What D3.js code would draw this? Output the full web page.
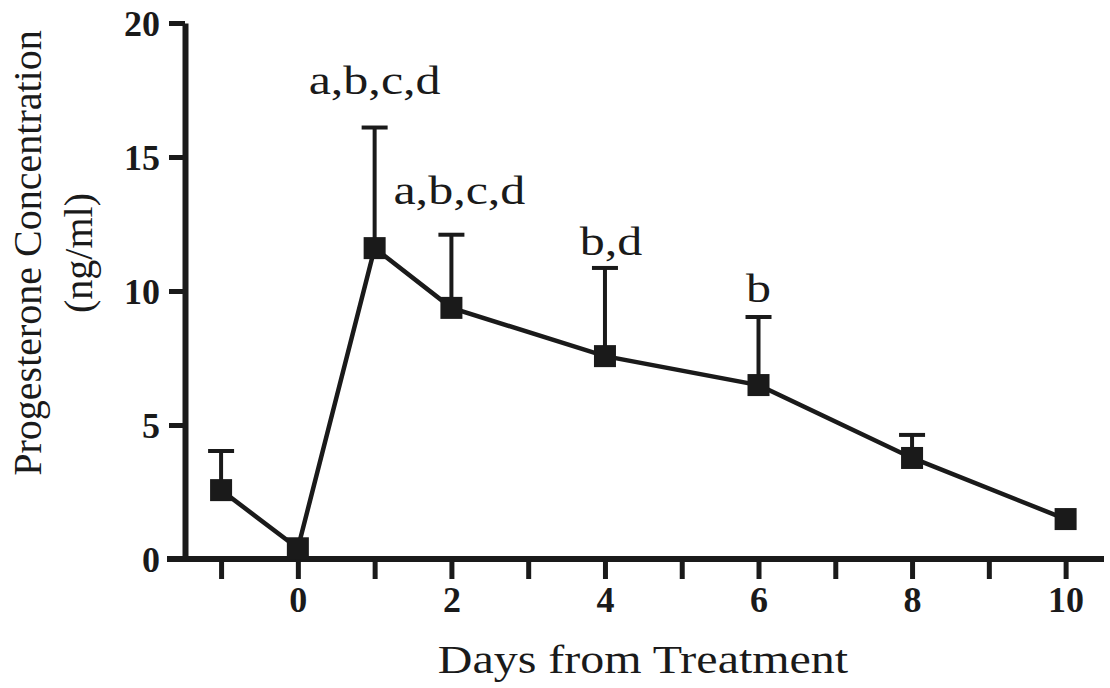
<!DOCTYPE html>
<html>
<head>
<meta charset="utf-8">
<script src="https://cdn.jsdelivr.net/npm/d3@7"></script>
<style>
  html, body { margin: 0; padding: 0; background: #fff; }
  svg { display: block; }
  text { font-family: "Liberation Serif", "Times New Roman", serif; fill: #1a1a1a; }
</style>
</head>
<body>
<svg id="chart" width="1110" height="688"></svg>
<script>
// ---- data ----
const days = [-1, 0, 1, 2, 4, 6, 8, 10];
const progesterone = [2.57, 0.4, 11.6, 9.37, 7.57, 6.49, 3.77, 1.49];
const sem = [1.46, 0, 4.5, 2.73, 3.29, 2.54, 0.86, 0];
const annotationDays = [1, 2, 4, 6];
const annotationText = ["a,b,c,d", "a,b,c,d", "b,d", "b"];
const xTickValues = [-1, 0, 1, 2, 3, 4, 5, 6, 7, 8, 9, 10];
const xTickLabels = ["", "0", "", "2", "", "4", "", "6", "", "8", "", "10"];
const yTickValues = [0, 5, 10, 15, 20];
const xTitle = "Days from Treatment";
const yTitleLines = ["Progesterone Concentration", "(ng/ml)"];

// ---- layout / style ----
const ink = "#1a1a1a";
const svg = d3.select("#chart");
svg.append("rect").attr("width", 1110).attr("height", 688).attr("fill", "#fff");

const x = d3.scaleLinear().domain([-1.47, 10.5]).range([185, 1104]);
const y = d3.scaleLinear().domain([0, 20]).range([559, 23]);

function stretch(sel, k) {
  sel.each(function () {
    const w = this.getComputedTextLength();
    d3.select(this).attr("textLength", w * k).attr("lengthAdjust", "spacingAndGlyphs");
  });
}

// x axis
const gx = svg.append("g").attr("transform", `translate(0,${y(0)})`)
  .call(d3.axisBottom(x).tickValues(xTickValues).tickSize(20).tickSizeOuter(0)
    .tickFormat((d, i) => xTickLabels[i]));
gx.select(".domain").attr("stroke", ink).attr("stroke-width", 6)
  .attr("d", `M${x.range()[0] - 18},0H${x.range()[1]}`);
gx.selectAll(".tick line").attr("stroke", ink).attr("stroke-width", 5);
gx.selectAll(".tick text").attr("y", 53).attr("dy", 0)
  .attr("font-size", 36).attr("font-weight", "bold").attr("fill", ink);

// y axis
const gy = svg.append("g").attr("transform", `translate(${x.range()[0]},0)`)
  .call(d3.axisLeft(y).tickValues(yTickValues).tickSize(16).tickPadding(9).tickSizeOuter(0));
gy.select(".domain").attr("stroke", ink).attr("stroke-width", 6);
gy.selectAll(".tick line").attr("stroke", ink).attr("stroke-width", 5);
gy.selectAll(".tick text").attr("dy", "0.35em")
  .attr("font-size", 36).attr("font-weight", "bold").attr("fill", ink);

// error bars (upper only)
const data = days.map((d, i) => ({ day: d, v: progesterone[i], e: sem[i] }));
const capHalf = 13;
const eb = svg.append("g").attr("stroke", ink).attr("stroke-width", 4).attr("fill", "none");
data.filter(d => d.e > 0).forEach(d => {
  eb.append("line").attr("x1", x(d.day)).attr("x2", x(d.day))
    .attr("y1", y(d.v)).attr("y2", y(d.v + d.e));
  eb.append("line").attr("x1", x(d.day) - capHalf).attr("x2", x(d.day) + capHalf)
    .attr("y1", y(d.v + d.e)).attr("y2", y(d.v + d.e));
});

// line
svg.append("path").datum(data)
  .attr("fill", "none").attr("stroke", ink).attr("stroke-width", 4.5)
  .attr("d", d3.line().x(d => x(d.day)).y(d => y(d.v)));

// square markers
const sz = 22;
svg.append("g").selectAll("rect").data(data).join("rect")
  .attr("x", d => x(d.day) - sz / 2).attr("y", d => y(d.v) - sz / 2)
  .attr("width", sz).attr("height", sz).attr("fill", ink);

// annotations
const annDx = [0, 8, 6, 0];
const annGap = [34, 31, 13, 15];
const ann = svg.append("g").selectAll("text").data(annotationDays).join("text")
  .attr("x", (d, i) => x(d) + annDx[i])
  .attr("y", (d, i) => {
    const p = data.find(q => q.day === d);
    return y(p.v + p.e) - annGap[i];
  })
  .attr("text-anchor", "middle").attr("font-size", 41)
  .text((d, i) => annotationText[i]);
stretch(ann, 1.22);

// axis titles
const xt = svg.append("text").attr("x", 643).attr("y", 673)
  .attr("text-anchor", "middle").attr("font-size", 41).text(xTitle);
stretch(xt, 1.17);

const yt = svg.append("g").attr("transform", "translate(0,253) rotate(-90)");
yt.append("text").attr("x", 0).attr("y", 41).attr("text-anchor", "middle")
  .attr("font-size", 40).text(yTitleLines[0]);
yt.append("text").attr("x", 0).attr("y", 92).attr("text-anchor", "middle")
  .attr("font-size", 40).text(yTitleLines[1]);
</script>
</body>
</html>
